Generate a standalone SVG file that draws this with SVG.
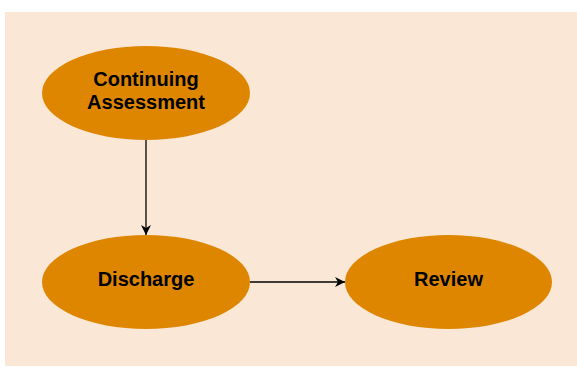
<svg xmlns="http://www.w3.org/2000/svg" width="577" height="367" viewBox="0 0 577 367">
<style>
.bg{fill:#fae7d5}
.node ellipse{fill:#de8600}
.node text{font-family:"Liberation Sans",Arial,sans-serif;font-weight:bold;font-size:20px;fill:#000;text-anchor:middle}
.edge{stroke:#000;stroke-width:1.3;fill:none}
</style>
<defs>
<marker id="ah" viewBox="0 0 10 10" refX="10" refY="5" markerWidth="10" markerHeight="10" markerUnits="userSpaceOnUse" orient="auto">
<path d="M0,0 L10,5 L0,10 L3,5 Z" fill="#000"/>
</marker>
</defs>
<rect class="bg" x="5" y="12" width="572" height="354"/>
<g id="connectors">
<line class="edge" x1="146" y1="140" x2="146" y2="235" marker-end="url(#ah)"/>
<line class="edge" x1="250" y1="282" x2="345" y2="282" marker-end="url(#ah)"/>
</g>
<g id="continuing-assessment" class="node">
<ellipse cx="146" cy="93" rx="104" ry="47"/>
<text x="146" y="86">Continuing</text>
<text x="146" y="109">Assessment</text>
</g>
<g id="discharge" class="node">
<ellipse cx="146" cy="282" rx="104" ry="47"/>
<text x="146" y="286">Discharge</text>
</g>
<g id="review" class="node">
<ellipse cx="448.5" cy="282" rx="103.5" ry="47"/>
<text x="448.5" y="286">Review</text>
</g>
</svg>
